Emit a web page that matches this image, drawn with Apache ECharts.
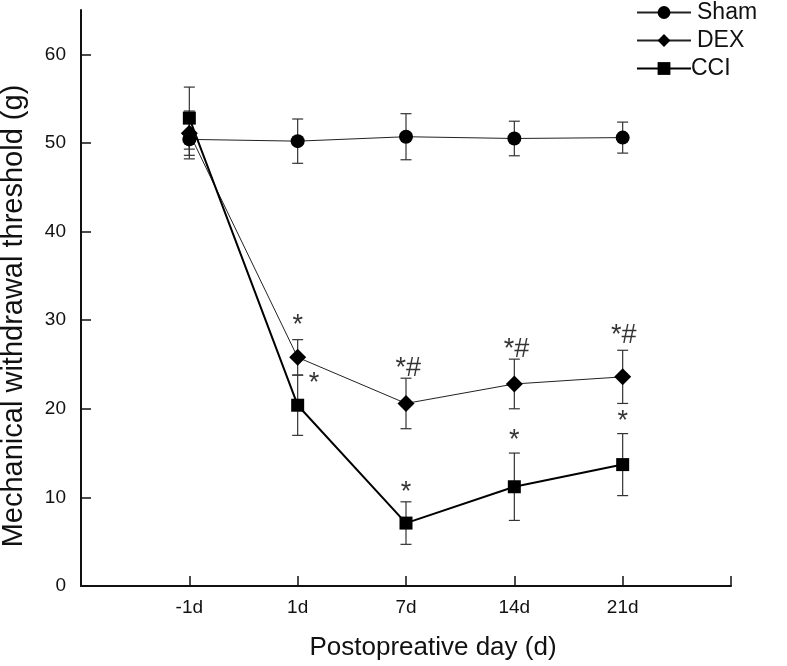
<!DOCTYPE html>
<html>
<head>
<meta charset="utf-8">
<script src="https://cdn.jsdelivr.net/npm/echarts@6/dist/echarts.min.js"></script>
<style>
  html, body { margin: 0; padding: 0; background: #fff; }
  #main { width: 787px; height: 666px; }
</style>
</head>
<body>
<div id="main"></div>
<script>
// categories on x (placed at 1..5 on a 0..6 value axis)
const days = ["-1d", "1d", "7d", "14d", "21d"];
const dayPos = [1, 2, 3, 4, 5];

// means and error (+/-) per group
const shamMean = [50.4, 50.2, 50.7, 50.5, 50.6];
const shamErr = [2.2, 2.5, 2.6, 1.95, 1.75];
const dexMean = [51.1, 25.8, 20.6, 22.8, 23.6];
const dexErr = [2.5, 2.0, 2.85, 2.8, 3.0];
const cciMean = [52.8, 20.4, 7.1, 11.2, 13.7];
const cciErr = [3.5, 3.4, 2.4, 3.8, 3.5];

// significance marks (x pos, y value, text)
const markX = [2, 2.15, 3.02, 4.02, 5.01, 3, 4, 5];
const markY = [29.4, 22.8, 24.5, 26.7, 28.3, 10.5, 16.4, 18.6];
const markText = ["*", "*", "*#", "*#", "*#", "*", "*", "*"];

const FONT = "Liberation Sans, Arial, sans-serif";

function pts(mean) {
  return mean.map((v, i) => [dayPos[i], v]);
}
function bars(mean, err) {
  return mean.map((v, i) => [dayPos[i], v - err[i], v + err[i]]);
}

function errorSeries(name, mean, err) {
  return {
    type: "custom",
    name: name,
    z: 1,
    silent: true,
    data: bars(mean, err),
    renderItem: function (params, api) {
      const x = api.value(0);
      const lo = api.coord([x, api.value(1)]);
      const hi = api.coord([x, api.value(2)]);
      const w = 5.5;
      const st = { stroke: "#333", lineWidth: 1.2 };
      return {
        type: "group",
        children: [
          { type: "line", shape: { x1: hi[0], y1: hi[1], x2: lo[0], y2: lo[1] }, style: st },
          { type: "line", shape: { x1: hi[0] - w, y1: hi[1], x2: hi[0] + w, y2: hi[1] }, style: st },
          { type: "line", shape: { x1: lo[0] - w, y1: lo[1], x2: lo[0] + w, y2: lo[1] }, style: st },
        ],
      };
    },
  };
}

const myChart = echarts.init(document.getElementById("main"), null, { renderer: "canvas" });

const option = {
  animation: false,
  backgroundColor: "#fff",
  grid: { left: 81, right: 56, top: 10, bottom: 80, outerBoundsMode: "none", containLabel: false },
  legend: {
    orient: "vertical",
    left: 636,
    top: 1,
    padding: 0,
    itemGap: 5,
    itemWidth: 54,
    itemHeight: 16,
    textStyle: { fontFamily: FONT, fontSize: 23, color: "#111", padding: [0, 0, 0, 1] },
    data: [
      { name: "Sham" },
      { name: "DEX" },
      { name: "CCI", textStyle: { padding: [0, 0, 0, -5] } },
    ],
  },
  // axis titles as plain text
  graphic: [
    {
      type: "text",
      x: 14,
      y: 316,
      rotation: Math.PI / 2,
      style: {
        text: "Mechanical withdrawal threshold (g)",
        fontFamily: FONT,
        fontSize: 29,
        fill: "#111",
        align: "center",
        verticalAlign: "middle",
      },
    },
    {
      type: "text",
      x: 433,
      y: 648,
      style: {
        text: "Postopreative day (d)",
        fontFamily: FONT,
        fontSize: 26,
        fill: "#111",
        align: "center",
        verticalAlign: "middle",
      },
    },
  ],
  xAxis: {
    type: "value",
    min: 0,
    max: 6,
    interval: 1,
    axisLine: { lineStyle: { color: "#111", width: 2 } },
    axisTick: { inside: true, length: 10, lineStyle: { color: "#111", width: 1.5 } },
    axisLabel: {
      fontFamily: FONT,
      fontSize: 19,
      color: "#111",
      margin: 12,
      formatter: (v) => days[dayPos.indexOf(v)] || "",
    },
    splitLine: { show: false },
  },
  yAxis: {
    type: "value",
    min: 0,
    max: 65,
    interval: 10,
    axisLine: { show: true, lineStyle: { color: "#111", width: 2 } },
    axisTick: { inside: true, length: 10, lineStyle: { color: "#111", width: 1.5 } },
    axisLabel: { fontFamily: FONT, fontSize: 19, color: "#111", margin: 15, showMaxLabel: false },
    splitLine: { show: false },
  },
  series: [
    errorSeries("errSham", shamMean, shamErr),
    errorSeries("errDex", dexMean, dexErr),
    errorSeries("errCci", cciMean, cciErr),
    {
      name: "Sham",
      type: "line",
      z: 3,
      data: pts(shamMean),
      symbol: "circle",
      symbolSize: 14,
      color: "#000",
      lineStyle: { color: "#222", width: 1 },
      itemStyle: { color: "#000" },
    },
    {
      name: "DEX",
      type: "line",
      z: 3,
      data: pts(dexMean),
      symbol: "diamond",
      symbolSize: 17,
      color: "#000",
      lineStyle: { color: "#222", width: 1 },
      itemStyle: { color: "#000" },
    },
    {
      name: "CCI",
      type: "line",
      z: 3,
      data: pts(cciMean),
      symbol: "rect",
      symbolSize: 13,
      color: "#000",
      lineStyle: { color: "#000", width: 2 },
      itemStyle: { color: "#000" },
    },
    {
      name: "marks",
      type: "scatter",
      z: 4,
      silent: true,
      symbolSize: 0,
      data: markX.map((x, i) => ({ value: [x, markY[i]], label: { formatter: markText[i] } })),
      label: {
        show: true,
        position: "inside",
        fontFamily: FONT,
        fontSize: 27,
        color: "#000",
      },
    },
  ],
};

myChart.setOption(option);
</script>
</body>
</html>
